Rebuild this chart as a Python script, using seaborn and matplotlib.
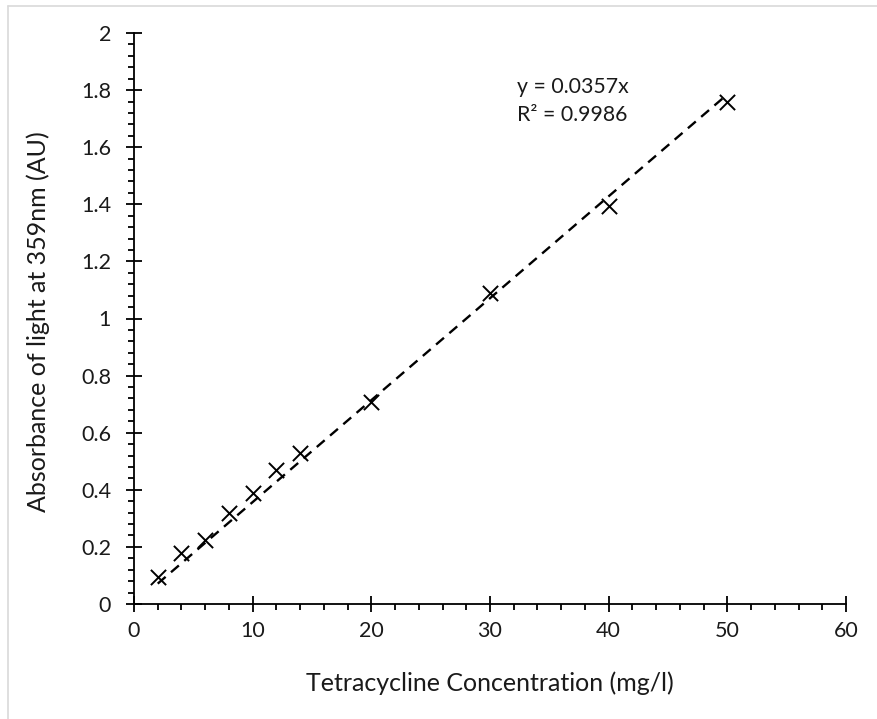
import matplotlib
matplotlib.use("Agg")
import matplotlib.pyplot as plt
import seaborn as sns
import numpy as np
import pandas as pd
from matplotlib.ticker import MultipleLocator
from matplotlib.lines import Line2D

# ---- data ----
concentration = [2, 4, 6, 8, 10, 12, 14, 20, 30, 40, 50]
absorbance = [0.093, 0.178, 0.225, 0.32, 0.39, 0.47, 0.53, 0.708, 1.09, 1.393, 1.757]
slope = 0.0357
r_squared = 0.9986
x_label = "Tetracycline Concentration (mg/l)"
y_label = "Absorbance of light at 359nm (AU)"
x_ticks = [0, 10, 20, 30, 40, 50, 60]
y_ticks = [0, 0.2, 0.4, 0.6, 0.8, 1, 1.2, 1.4, 1.6, 1.8, 2]

sns.set_theme(style="white")
plt.rcParams['font.family'] = ['Lato', 'DejaVu Sans']

W, H, DPI = 877, 719, 100
fig = plt.figure(figsize=(W / DPI, H / DPI), dpi=DPI)
L, R, B, T = 134, 846, 604, 33
ax = fig.add_axes([L / W, 1 - B / H, (R - L) / W, (B - T) / H])

df = pd.DataFrame({"x": concentration, "y": absorbance})
xs = np.array([min(concentration), max(concentration)])
trend = pd.DataFrame({"x": xs, "y": slope * xs})

sns.lineplot(data=trend, x="x", y="y", ax=ax, color="black", linewidth=1.7,
             dashes=False, zorder=2)
ax.lines[-1].set_dashes((4.4, 3.0))
sns.scatterplot(data=df, x="x", y="y", ax=ax, marker="x", color="black",
                s=120, linewidth=1.4, zorder=3)

ax.set_xlim(0, 60)
ax.set_ylim(0, 2)
ax.set_xticks(x_ticks)
ax.set_yticks(y_ticks)
ax.set_xticklabels([str(v) for v in x_ticks])
ax.set_yticklabels([f"{v:g}" for v in y_ticks])
ax.xaxis.set_minor_locator(MultipleLocator(2))
ax.yaxis.set_minor_locator(MultipleLocator(0.04))

for s in ["top", "right"]:
    ax.spines[s].set_visible(False)
for s in ["left", "bottom"]:
    ax.spines[s].set_color("black")
    ax.spines[s].set_linewidth(1.3)

ax.tick_params(which="both", bottom=True, left=True, top=False, right=False)
ax.tick_params(which="major", direction="inout", length=11, width=1.3,
               color="black", labelsize=15.5, labelcolor="#1a1a1a")
ax.tick_params(axis="y", which="major", pad=11)
ax.tick_params(axis="x", which="major", pad=7)
ax.tick_params(which="minor", direction="out", length=4, width=1.3,
               color="black")

ax.set_xlabel(x_label, fontsize=18, color="#1a1a1a", va="center")
ax.set_ylabel(y_label, fontsize=18, color="#1a1a1a", va="center")
ax.xaxis.set_label_coords((490 - L) / (R - L), (B - 683) / (B - T))
ax.yaxis.set_label_coords((38 - L) / (R - L), (B - 322) / (B - T))

ax.text(32.3, 1.81, f"y = {slope}x", fontsize=15.3, color="#1a1a1a",
        ha="left", va="center")
ax.text(32.3, 1.713, f"R\u00b2 = {r_squared}", fontsize=15.3, color="#1a1a1a",
        ha="left", va="center")

# light gray chart-area frame (top & left edges visible)
fig.add_artist(Line2D([8 / W, 1], [1 - 6 / H, 1 - 6 / H], color="#d9d9d9",
                      linewidth=1.2, transform=fig.transFigure))
fig.add_artist(Line2D([8 / W, 8 / W], [0, 1 - 6 / H], color="#d9d9d9",
                      linewidth=1.2, transform=fig.transFigure))

fig.savefig("out.png", dpi=DPI)
